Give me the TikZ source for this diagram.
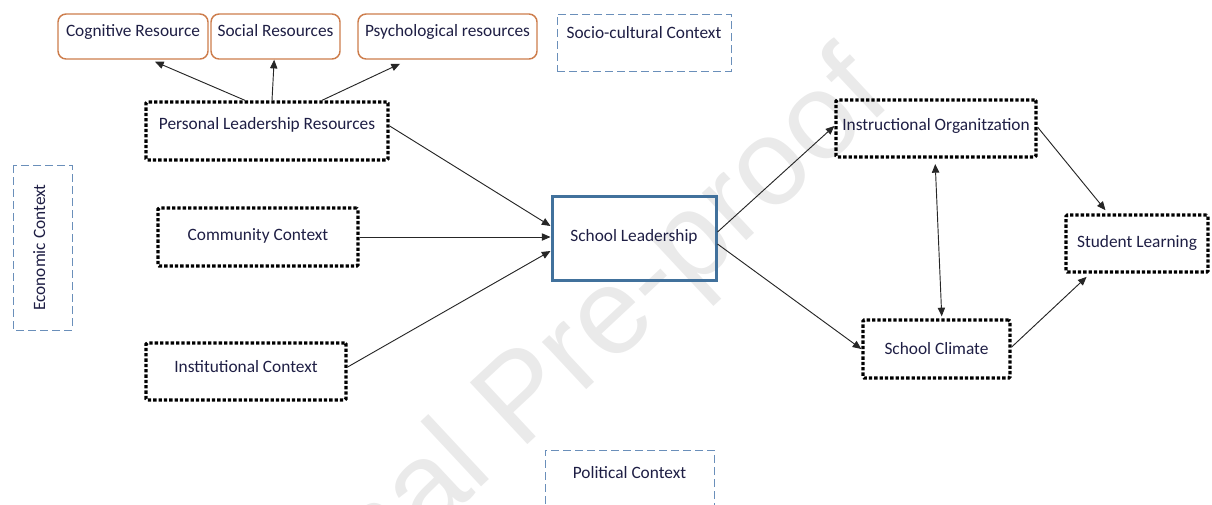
\documentclass[tikz,border=0pt]{standalone}
\usepackage{fontspec}
\setmainfont{Carlito}
\newfontfamily\markfont{Liberation Sans}
\usetikzlibrary{arrows.meta}
\definecolor{box_orange}{HTML}{CD7D4C}
\definecolor{box_blue}{HTML}{41719C}
\definecolor{ctx_blue}{HTML}{6A8FBA}
\definecolor{label_ink}{HTML}{1E1E44}
\definecolor{mark_gray}{HTML}{EAEAEA}
\tikzset{
  block_font/.style = {font=\fontsize{13}{15}\selectfont, text=label_ink},
  lift/.style = {text height=9pt, text depth=#1},
  lift/.default = 1.4pt
}
\tikzset{
  resource/.style = {block_font, lift, draw=box_orange, line width=1.1pt, rounded corners=6pt, minimum height=33.75pt, inner sep=0},
  context/.style = {block_font, lift, draw=ctx_blue, line width=0.75pt, dash pattern=on 6pt off 3pt, inner sep=0},
  factor/.style = {block_font, lift, draw=black, line width=2.5pt, dash pattern=on 2.5pt off 1.5pt, rounded corners=1pt, minimum height=43.5pt, inner sep=0},
  core/.style = {block_font, lift, draw=box_blue, line width=2.25pt, inner sep=0},
  arrow/.style = {-{Triangle[length=6.5pt,width=5.5pt]}, line width=0.7pt, draw=black!85},
  twoway/.style = {{Triangle[length=6.5pt,width=5.5pt]}-{Triangle[length=6.5pt,width=5.5pt]}, line width=0.7pt, draw=black!85}
}

\begin{document}
\begin{tikzpicture}[x=0.75pt, y=-0.75pt]
        \useasboundingbox (0,0) rectangle (1212,504);

        % watermark
        \node[font=\markfont\fontsize{92}{92}\selectfont, text=mark_gray, rotate=43, anchor=base east, inner sep=0] at (895,102) (mark) {Journal Pre-proof};

        % Resources
        \node[resource, lift=9.6pt, minimum width=112.5pt] at (133,36.5) (cog) {Cognitive Resource};
        \node[resource, lift=9.6pt, minimum width=96.75pt] at (275.5,36.5) (soc) {Social Resources};
        \node[resource, lift=9.6pt, minimum width=134.25pt] at (447.5,36.5) (psy) {Psychological resources};

        % Contexts
        \node[context, lift=15.6pt, minimum width=130.5pt, minimum height=42.75pt] at (644,42.5) (socio) {Socio-cultural Context};
        \node[context, rotate=90, lift=5.2pt, minimum width=123.75pt, minimum height=44.25pt] at (42.5,247.5) (econ) {Economic Context};
        \node[context, lift=11.9pt, minimum width=126.75pt, minimum height=45pt] at (629.5,480) (pol) {Political Context};

        % Antecedents
        \node[factor, lift=11.9pt, minimum width=181.5pt] at (267,131) (plr) {Personal Leadership Resources};
        \node[factor, lift=4.4pt, minimum width=150pt] at (258,237) (com) {Community Context};
        \node[factor, lift=8.2pt, minimum width=150pt, minimum height=42.75pt] at (246,371.5) (inst) {Institutional Context};

        % Leadership and outcomes
        \node[core, lift=4.4pt, minimum width=123pt, minimum height=63pt] at (634,238) (lead) {School Leadership};
        \node[factor, lift=6.6pt, minimum width=150pt, minimum height=42.75pt] at (936,128.5) (instr) {Instructional Organitzation};
        \node[factor, lift=3.6pt, minimum width=106.5pt, minimum height=42.75pt] at (1137,243.5) (learn) {Student Learning};
        \node[factor, minimum width=110.25pt] at (936.5,349) (clim) {School Climate};

        % Arrows
        \draw[arrow] ([xshift=-16.5pt]plr.north)--([xshift=16.5pt, yshift=-1.5pt]cog.south);
        \draw[arrow] ([xshift=3.75pt]plr.north)--([xshift=-1pt]soc.south);
        \draw[arrow] ([xshift=41.25pt]plr.north)--([xshift=-35.6pt, yshift=-3pt]psy.south);

        \draw[arrow] ([yshift=3.75pt]plr.east)--([yshift=9pt]lead.west);
        \draw[arrow] (com.east)--(com.east -| lead.west);
        \draw[arrow] ([yshift=3.4pt]inst.east)--([yshift=-9.75pt]lead.west);

        \draw[arrow] ([yshift=4.5pt]lead.east)--([yshift=1.9pt]instr.west);
        \draw[arrow] ([yshift=-4.5pt]lead.east)--(clim.west);

        \draw[arrow, shorten >=3pt] ([yshift=1pt]instr.east)--([xshift=-21.75pt]learn.north);
        \draw[arrow, shorten >=3.5pt] ([yshift=1.5pt]clim.east)--([xshift=-35.25pt]learn.south);
        \draw[twoway, shorten <=4pt, shorten >=1.5pt] ([xshift=-0.75pt]instr.south)--([xshift=4pt]clim.north);
\end{tikzpicture}
\end{document}
